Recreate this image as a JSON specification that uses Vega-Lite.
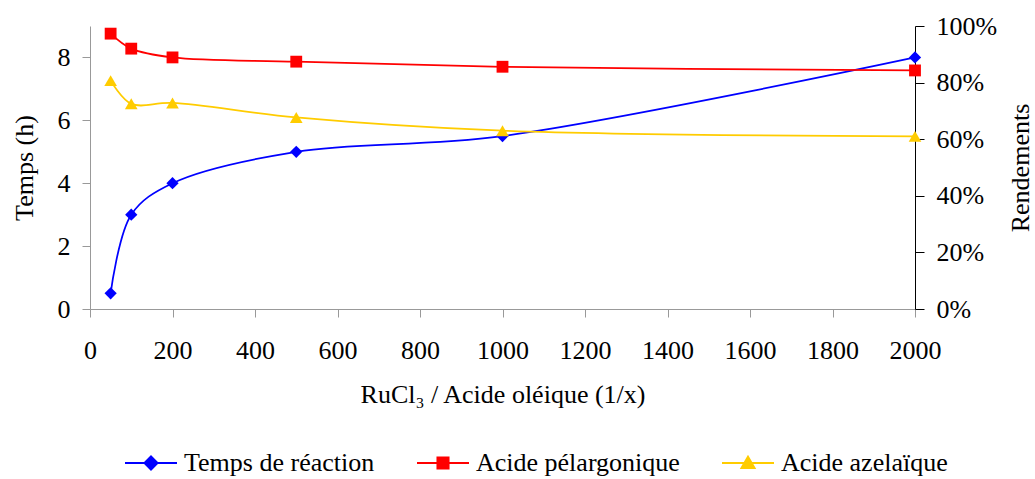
{
  "$schema": "https://vega.github.io/schema/vega-lite/v6.json",
  "width": 825,
  "height": 283,
  "autosize": {"type": "none"},
  "padding": {"left": 90, "top": 26, "right": 120, "bottom": 170},
  "config": {
    "font": "'Liberation Serif', 'Times New Roman', 'DejaVu Serif', serif",
    "view": {"stroke": null},
    "axis": {
      "grid": false,
      "labelFont": "'Liberation Serif', 'Times New Roman', 'DejaVu Serif', serif",
      "titleFont": "'Liberation Serif', 'Times New Roman', 'DejaVu Serif', serif",
      "labelFontSize": 26,
      "titleFontSize": 26,
      "titleFontWeight": "normal",
      "labelColor": "#000000",
      "titleColor": "#000000",
      "tickSize": 8,
      "labelFlush": false
    },
    "legend": {"labelFont": "'Liberation Serif', 'Times New Roman', 'DejaVu Serif', serif", "labelFontSize": 26, "labelColor": "#000000", "labelLimit": 0}
  },
  "data": {
    "values": [
      {"x": 50, "serie": "Temps de réaction", "v": 0.5},
      {"x": 100, "serie": "Temps de réaction", "v": 3},
      {"x": 200, "serie": "Temps de réaction", "v": 4},
      {"x": 500, "serie": "Temps de réaction", "v": 5},
      {"x": 1000, "serie": "Temps de réaction", "v": 5.5},
      {"x": 2000, "serie": "Temps de réaction", "v": 8},
      {"x": 50, "serie": "Acide pélargonique", "v": 0.973},
      {"x": 100, "serie": "Acide pélargonique", "v": 0.92},
      {"x": 200, "serie": "Acide pélargonique", "v": 0.889},
      {"x": 500, "serie": "Acide pélargonique", "v": 0.874},
      {"x": 1000, "serie": "Acide pélargonique", "v": 0.856},
      {"x": 2000, "serie": "Acide pélargonique", "v": 0.843},
      {"x": 50, "serie": "Acide azelaïque", "v": 0.807},
      {"x": 100, "serie": "Acide azelaïque", "v": 0.725},
      {"x": 200, "serie": "Acide azelaïque", "v": 0.728},
      {"x": 500, "serie": "Acide azelaïque", "v": 0.677},
      {"x": 1000, "serie": "Acide azelaïque", "v": 0.63},
      {"x": 2000, "serie": "Acide azelaïque", "v": 0.61}
    ]
  },
  "encoding": {
    "x": {
      "field": "x",
      "type": "quantitative",
      "scale": {"domain": [0, 2000], "nice": false},
      "axis": {
        "title": "RuCl₃ / Acide oléique (1/x)",
        "values": [0, 200, 400, 600, 800, 1000, 1200, 1400, 1600, 1800, 2000],
        "format": "d",
        "domainColor": "#999999",
        "tickColor": "#999999",
        "labelPadding": 20,
        "titlePadding": 18
      }
    },
    "color": {
      "field": "serie",
      "type": "nominal",
      "scale": {
        "domain": ["Temps de réaction", "Acide pélargonique", "Acide azelaïque"],
        "range": ["#0000FF", "#FF0000", "#FFCC00"]
      },
      "legend": {
        "title": null,
        "orient": "none",
        "legendX": 48,
        "legendY": 424,
        "direction": "horizontal",
        "symbolSize": 169,
        "labelOffset": 20,
        "columnPadding": 38,
        "labelLimit": 0,
        "encode": {
          "symbols": {
            "update": {
              "shape": {"signal": "datum.value === 'Temps de réaction' ? 'M-4,0H4M0,-1L1,0L0,1L-1,0Z' : (datum.value === 'Acide pélargonique' ? 'M-4,0H4M-0.85,-0.85H0.85V0.85H-0.85Z' : 'M-4,0H4M0,-0.95L1,0.75H-1Z')"},
              "fill": {"scale": "color", "field": "value"},
              "stroke": {"scale": "color", "field": "value"},
              "strokeWidth": {"value": 2},
              "size": {"value": 169},
              "opacity": {"value": 1}
            }
          }
        }
      }
    }
  },
  "layer": [
    {
      "transform": [{"filter": "datum.serie === 'Temps de réaction'"}],
      "encoding": {
        "y": {
          "field": "v",
          "type": "quantitative",
          "scale": {"domain": [0, 9], "nice": false},
          "axis": {
            "orient": "left",
            "title": "Temps (h)",
            "values": [0, 2, 4, 6, 8],
            "domainColor": "#999999",
            "tickColor": "#999999",
            "labelPadding": 12,
            "titlePadding": 20
          }
        }
      },
      "layer": [
        {"mark": {"type": "line", "interpolate": "catmull-rom", "strokeWidth": 1.75}},
        {"mark": {"type": "point", "filled": true, "opacity": 1, "size": 150, "shape": "diamond"}}
      ]
    },
    {
      "transform": [{"filter": "datum.serie !== 'Temps de réaction'"}],
      "encoding": {
        "y": {
          "field": "v",
          "type": "quantitative",
          "scale": {"domain": [0, 1], "nice": false},
          "axis": {
            "orient": "right",
            "title": "Rendements",
            "titleAngle": 270,
            "values": [0, 0.2, 0.4, 0.6, 0.8, 1],
            "format": ".0%",
            "domainColor": "#000000",
            "tickColor": "#000000",
            "tickSize": 9,
            "labelPadding": 12,
            "titlePadding": 37
          }
        }
      },
      "layer": [
        {"mark": {"type": "line", "interpolate": "catmull-rom", "strokeWidth": 1.75}},
        {
          "transform": [{"filter": "datum.serie === 'Acide pélargonique'"}],
          "mark": {"type": "point", "filled": true, "opacity": 1, "size": 140, "shape": "square"}
        },
        {
          "transform": [{"filter": "datum.serie === 'Acide azelaïque'"}],
          "mark": {"type": "point", "filled": true, "opacity": 1, "size": 160, "shape": "triangle-up"}
        }
      ]
    }
  ],
  "resolve": {"scale": {"y": "independent"}}
}
